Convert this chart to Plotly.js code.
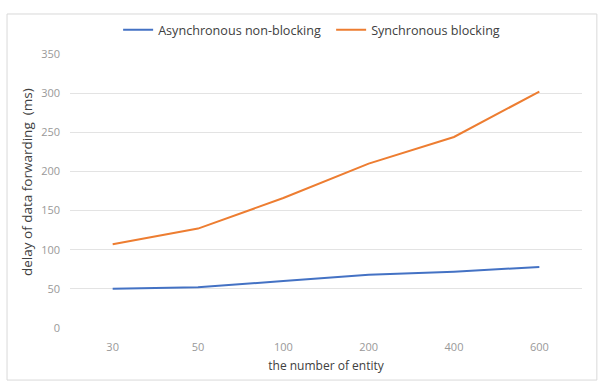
<!DOCTYPE html>
<html>
<head>
<meta charset="utf-8">
<script src="https://cdn.plot.ly/plotly-3.0.1.min.js"></script>
<style>html,body{margin:0;padding:0;background:#fff;}#chart{width:602px;height:382px;}</style>
</head>
<body>
<div id="chart"></div>
<script>
const categories = ["30", "50", "100", "200", "400", "600"];
const asyncNonBlocking = [50, 52, 60, 68, 72, 78];
const syncBlocking = [107, 127, 166, 210, 244, 302];
const yTicks = [0, 50, 100, 150, 200, 250, 300, 350];
const xTitle = "the number of entity";
const yTitle = "delay of data forwarding  (ms)";

const font = "'Open Sans', 'Noto Sans', sans-serif";

const traces = [
  {x: categories, y: asyncNonBlocking, type: "scatter", mode: "lines",
   name: "Asynchronous non-blocking", line: {color: "#4472C4", width: 2}},
  {x: categories, y: syncBlocking, type: "scatter", mode: "lines",
   name: "Synchronous blocking", line: {color: "#ED7D31", width: 2}}
];

const layout = {
  width: 602, height: 382,
  margin: {l: 70, r: 20, t: 54, b: 54, autoexpand: false},
  paper_bgcolor: "#fff", plot_bgcolor: "#fff",
  font: {family: font, color: "#8a8a8a", size: 11},
  showlegend: true,
  legend: {orientation: "h", x: 0.094, xanchor: "left", y: 1.087, yanchor: "middle",
           font: {size: 12.6, color: "#404040"}, itemwidth: 30, entrywidth: 168, entrywidthmode: "pixels",
           bgcolor: "rgba(0,0,0,0)"},
  xaxis: {type: "category", range: [-0.5, 5.5], showgrid: false, zeroline: false,
          showline: false, ticks: "", ticklabelstandoff: 11, tickfont: {size: 11, color: "#999999"},
          title: {text: xTitle, font: {size: 12, color: "#404040"}, standoff: 8}},
  yaxis: {range: [0, 350], tickvals: yTicks, showgrid: true, gridcolor: "#e3e3e3", gridwidth: 1,
          zeroline: false, showline: false, ticks: "", ticklabelstandoff: 9,
          tickfont: {size: 11, color: "#999999"}},
  annotations: [{text: yTitle, xref: "paper", yref: "paper", x: (27 - 70) / 512, y: (328 - 182) / 274,
                 xanchor: "center", yanchor: "middle", textangle: -90, showarrow: false,
                 font: {size: 13.5, color: "#404040"}}],
  shapes: [{type: "rect", xref: "paper", yref: "paper",
            x0: -0.123, x1: 1.029, y0: -0.19, y1: 1.146,
            line: {color: "#d9d9d9", width: 1}, fillcolor: "rgba(0,0,0,0)", layer: "below"}]
};

Plotly.newPlot("chart", traces, layout, {displayModeBar: false, staticPlot: true});
</script>
</body>
</html>
